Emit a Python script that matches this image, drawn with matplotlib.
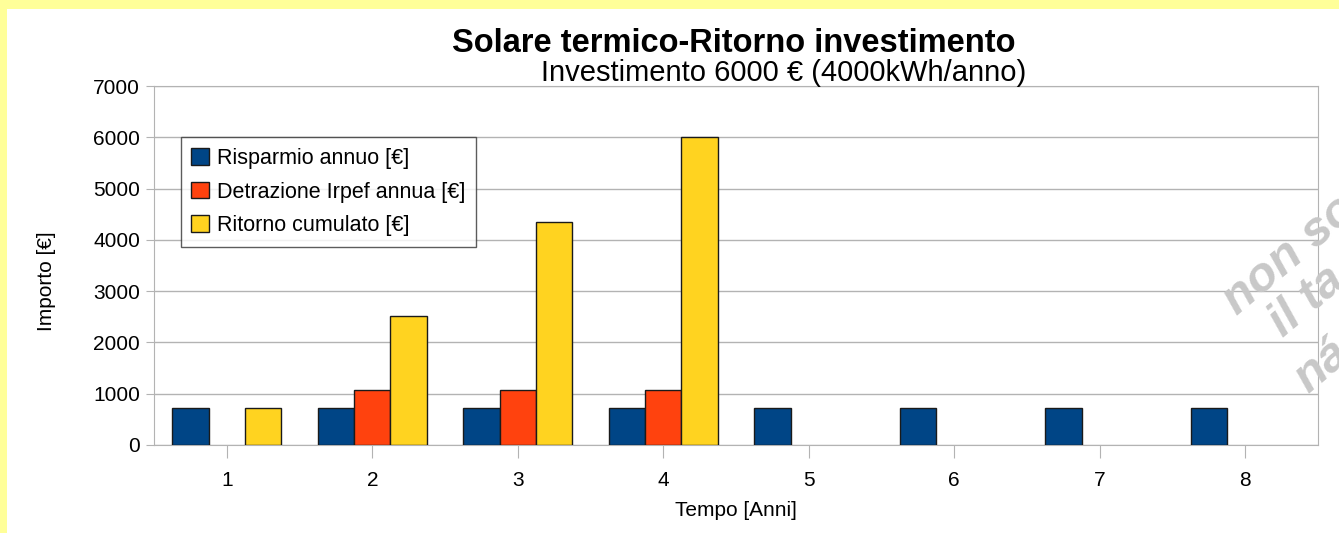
import numpy as np
import matplotlib
matplotlib.use("Agg")
import matplotlib.pyplot as plt
from matplotlib.patches import Rectangle

# data (nan = no bar drawn)
anni = [1, 2, 3, 4, 5, 6, 7, 8]
risparmio = [725, 725, 725, 725, 725, 725, 725, 725]
detrazione = [np.nan, 1080, 1080, 1080, np.nan, np.nan, np.nan, np.nan]
ritorno = [725, 2520, 4350, 6000, np.nan, np.nan, np.nan, np.nan]

serie_nomi = ["Risparmio annuo [€]", "Detrazione Irpef annua [€]", "Ritorno cumulato [€]"]
colori = ["#004586", "#FF420E", "#FFD320"]

plt.rcParams["font.family"] = ["Liberation Sans", "DejaVu Sans"]

fig = plt.figure(figsize=(13.39, 5.33), dpi=100)
fig.patch.set_facecolor("#FFFF99")
fig.patches.append(Rectangle((7 / 1339, 0), 1, 1 - 9 / 533, transform=fig.transFigure,
                             facecolor="white", edgecolor="none", zorder=-10))

ax = fig.add_axes([154 / 1339, 1 - 445 / 533, 1164 / 1339, 359 / 533])
ax.set_zorder(1)
ax.set_facecolor("white")

x = np.arange(len(anni))
w = 0.25
for i, (vals, nome, col) in enumerate(zip([risparmio, detrazione, ritorno], serie_nomi, colori)):
    ax.bar(x + (i - 1) * w, vals, width=w, color=col, edgecolor="#1a1a1a",
           linewidth=1.0, label=nome, zorder=3)

ax.set_xlim(-0.5, len(anni) - 0.5)
ax.set_ylim(0, 7000)
ax.set_yticks(range(0, 7001, 1000))
ax.set_xticks(x)
ax.set_xticklabels([str(a) for a in anni])
ax.grid(axis="y", color="#b3b3b3", linewidth=1.0, zorder=0)
for s in ax.spines.values():
    s.set_color("#b3b3b3")
ax.tick_params(axis="y", colors="#b3b3b3", length=6, labelcolor="black", labelsize=15, pad=4)
ax.tick_params(axis="x", colors="#b3b3b3", length=9, labelcolor="black", labelsize=15, pad=10)

ax.set_xlabel("Tempo [Anni]", fontsize=15, labelpad=8)
ax.set_ylabel("Importo [€]", fontsize=15)
ax.yaxis.set_label_coords(-0.084, 0.457)

leg = ax.legend(loc="upper left", bbox_to_anchor=(0.0229, 0.857), fontsize=15.5,
                frameon=True, fancybox=False, edgecolor="#333333",
                handlelength=0.8, handleheight=0.8, handletextpad=0.4,
                borderpad=0.5, labelspacing=0.58, borderaxespad=0)
leg.get_frame().set_linewidth(1.0)

fig.text(734 / 1339, 1 - 52 / 533, "Solare termico-Ritorno investimento",
         ha="center", va="baseline", fontsize=23.5, fontweight="bold")
fig.text(784 / 1339, 1 - 81 / 533, "Investimento 6000 € (4000kWh/anno)",
         ha="center", va="baseline", fontsize=21)

# watermark, cut off by the right edge
for testo, px, py in [("non so", 1237, 316), ("il ta", 1283, 338), ("ná", 1308, 394)]:
    fig.text(px / 1339, 1 - py / 533, testo, rotation=40, rotation_mode="anchor",
             ha="left", va="baseline", fontsize=35, fontweight="bold", style="italic",
             color="#c8c8c8", zorder=5)

fig.savefig("out.png", dpi=100, facecolor=fig.get_facecolor())
